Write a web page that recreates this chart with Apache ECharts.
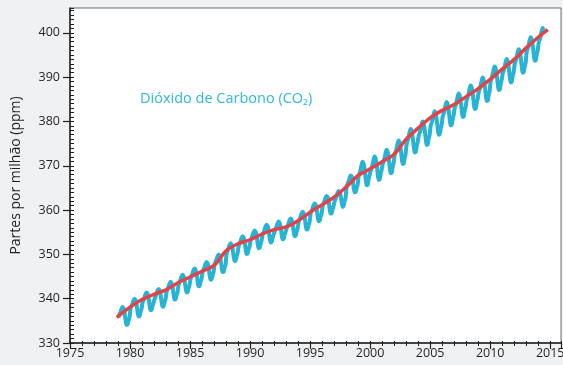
<!DOCTYPE html>
<html><head><meta charset="utf-8">
<script src="https://cdn.jsdelivr.net/npm/echarts@6/dist/echarts.min.js"></script>
<style>html,body{margin:0;padding:0;background:#f0f1f3;}#c{width:563px;height:365px;}</style>
</head><body><div id="c"></div>
<script>
// Monthly CO2 (ppm), Jan..Dec per year (read/estimated from the picture)
const years = [1979,1980,1981,1982,1983,1984,1985,1986,1987,1988,1989,1990,1991,1992,1993,1994,1995,1996,1997,1998,1999,2000,2001,2002,2003,2004,2005,2006,2007,2008,2009,2010,2011,2012,2013,2014];
const co2Monthly = [
  [335.8,336.4,337.0,337.7,338.1,337.8,336.9,335.3,334.1,334.2,335.1,335.8],
  [337.7,338.3,338.9,339.6,340.0,339.7,338.8,337.2,336.0,336.1,337.0,337.7],
  [339.1,339.7,340.3,341.0,341.4,341.1,340.2,338.6,337.4,337.5,338.4,339.1],
  [339.9,340.5,341.1,341.8,342.2,341.9,341.0,339.4,338.2,338.3,339.2,339.9],
  [341.5,342.1,342.7,343.4,343.8,343.5,342.6,341.0,339.8,339.9,340.8,341.5],
  [343.1,343.7,344.3,345.0,345.4,345.1,344.2,342.6,341.4,341.5,342.4,343.1],
  [344.5,345.1,345.7,346.4,346.8,346.5,345.6,344.0,342.8,342.9,343.8,344.5],
  [346.0,346.6,347.2,347.9,348.3,348.0,347.1,345.5,344.3,344.4,345.3,346.0],
  [347.7,348.3,348.9,349.6,350.0,349.7,348.8,347.2,346.0,346.1,347.0,347.7],
  [350.2,350.8,351.4,352.1,352.5,352.2,351.3,349.7,348.5,348.6,349.5,350.2],
  [351.8,352.4,353.0,353.7,354.1,353.8,352.9,351.3,350.1,350.2,351.1,351.8],
  [353.1,353.7,354.3,355.0,355.4,355.1,354.2,352.6,351.4,351.5,352.4,353.1],
  [354.4,355.0,355.6,356.3,356.7,356.4,355.5,353.9,352.7,352.8,353.7,354.4],
  [355.1,355.7,356.3,357.0,357.4,357.1,356.2,354.6,353.4,353.5,354.4,355.1],
  [355.8,356.4,357.0,357.7,358.1,357.8,356.9,355.3,354.1,354.2,355.1,355.8],
  [357.3,357.9,358.5,359.2,359.6,359.3,358.4,356.8,355.6,355.7,356.6,357.3],
  [359.2,359.8,360.4,361.1,361.5,361.2,360.3,358.7,357.5,357.6,358.5,359.2],
  [360.9,361.5,362.1,362.8,363.2,362.9,362.0,360.4,359.2,359.3,360.2,360.9],
  [362.0,362.6,363.2,363.9,364.3,364.0,363.3,361.8,360.7,361.0,362.0,362.8],
  [365.3,365.9,366.5,367.2,367.8,367.6,366.8,365.2,364.0,364.1,365.0,365.7],
  [367.6,368.3,369.1,370.2,370.9,370.4,369.1,367.2,365.6,365.7,367.0,367.9],
  [368.8,369.5,370.3,371.4,372.1,371.6,370.3,368.4,366.8,366.9,368.2,369.1],
  [370.3,371.0,371.8,372.9,373.6,373.1,371.8,369.9,368.3,368.4,369.7,370.6],
  [372.4,373.1,373.9,375.0,375.7,375.2,373.9,372.0,370.4,370.5,371.8,372.7],
  [375.0,375.7,376.5,377.6,378.3,377.8,376.5,374.6,373.0,373.1,374.4,375.3],
  [376.7,377.4,378.2,379.3,380.0,379.5,378.2,376.3,374.7,374.8,376.1,377.0],
  [379.0,379.7,380.5,381.6,382.3,381.8,380.5,378.6,377.0,377.1,378.4,379.3],
  [381.1,381.8,382.6,383.7,384.4,383.9,382.6,380.7,379.1,379.2,380.5,381.4],
  [383.0,383.7,384.5,385.6,386.3,385.8,384.5,382.6,381.0,381.1,382.4,383.3],
  [384.8,385.5,386.3,387.4,388.1,387.6,386.3,384.4,382.8,382.9,384.2,385.1],
  [386.6,387.3,388.1,389.2,389.9,389.4,388.1,386.2,384.6,384.7,386.0,386.9],
  [389.1,389.8,390.6,391.7,392.4,391.9,390.6,388.7,387.1,387.2,388.5,389.4],
  [390.8,391.5,392.3,393.4,394.1,393.6,392.3,390.4,388.8,388.9,390.2,391.1],
  [393.0,393.7,394.5,395.6,396.3,395.8,394.5,392.6,391.0,391.1,392.4,393.3],
  [395.7,396.4,397.2,398.3,399.0,398.5,397.2,395.3,393.7,393.8,395.1,396.0],
  [397.8,398.5,399.3,400.4,401.1,400.6]
];
// Trend line (red)
const trendYears  = [1978.9,1980,1981,1982,1983,1984,1985,1986,1987,1988,1989,1990,1991,1992,1993,1994,1995,1996,1997,1998,1999,2000,2001,2002,2003,2004,2005,2006,2007,2008,2009,2010,2011,2012,2013,2014,2014.8];
const trendValues = [335.8,338.1,339.8,341.0,342.0,343.6,344.9,346.2,347.5,350.8,352.4,353.3,354.6,355.6,356.2,357.6,359.5,361.2,362.9,365.2,367.8,369.3,370.9,372.6,376.0,378.5,380.8,382.5,383.8,385.6,387.4,389.5,391.8,394.0,396.6,399.0,400.7];
const xTicks = [1975,1980,1985,1990,1995,2000,2005,2010,2015];
const yTicks = [330,340,350,360,370,380,390,400];
const label = 'Dióxido de Carbono (CO₂)';

const co2Data = [];
years.forEach((y, i) => co2Monthly[i].forEach((v, m) => co2Data.push([y + (m + 0.5) / 12, v])));
const trendData = trendYears.map((y, i) => [y, trendValues[i]]);

const X_MAX = 2015.9, Y_MAX = 405.6;
const FONT = '"Open Sans", "DejaVu Sans", sans-serif';
const chart = echarts.init(document.getElementById('c'), null, {renderer: 'canvas'});
let gridRight = 2;
chart.setOption({
  animation: false,
  backgroundColor: '#f0f1f3',
  grid: {left: 70, right: gridRight, top: 8, bottom: 22, show: true, backgroundColor: '#ffffff',
    borderColor: '#6d6e70', borderWidth: 1, outerBoundsMode: 'none'},
  xAxis: [{
    type: 'value', min: xTicks[0], max: X_MAX, interval: 5,
    axisLine: {show: true, lineStyle: {color: '#231f20', width: 1.5}},
    axisTick: {show: true, length: 6, lineStyle: {color: '#231f20', width: 1.2}},
    minorTick: {show: true, splitNumber: 5, length: 3, lineStyle: {color: '#231f20', width: 1}},
    splitLine: {show: false},
    axisLabel: {color: '#231f20', fontSize: 12.5, fontFamily: FONT, margin: 4, showMaxLabel: false,
      formatter: v => xTicks.includes(v) ? String(v) : ''}
  }, {
    type: 'value', min: xTicks[0], max: X_MAX, interval: 1, position: 'bottom',
    axisLine: {show: false}, axisLabel: {show: false}, splitLine: {show: false},
    axisTick: {show: true, inside: true, length: 2, lineStyle: {color: '#231f20', width: 1}}
  }],
  yAxis: [{
    type: 'value', min: yTicks[0], max: Y_MAX, interval: 10,
    name: 'Partes por milhão (ppm)', nameLocation: 'middle', nameGap: 47, nameRotate: 90,
    nameTextStyle: {color: '#231f20', fontSize: 14, fontFamily: FONT},
    axisLine: {show: true, lineStyle: {color: '#231f20', width: 1.5}},
    axisTick: {show: true, length: 7, lineStyle: {color: '#231f20', width: 1.2}},
    splitLine: {show: false},
    axisLabel: {color: '#231f20', fontSize: 12.5, fontFamily: FONT, margin: 10, showMaxLabel: false,
      formatter: v => yTicks.includes(v) ? String(v) : ''}
  }, {
    type: 'value', min: yTicks[0], max: Y_MAX, interval: 1, position: 'left',
    axisLine: {show: false}, axisLabel: {show: false}, splitLine: {show: false},
    axisTick: {show: true, inside: true, length: 4, lineStyle: {color: '#231f20', width: 1}}
  }],
  graphic: [{
    type: 'text', left: 140, top: 91,
    style: {text: label, fill: '#2fb8d8', fontSize: 14.5, fontFamily: FONT}
  }],
  series: [{
    type: 'line', data: co2Data, showSymbol: false, smooth: 0.3,
    lineStyle: {color: '#27b3d4', width: 4}, z: 3
  }, {
    type: 'line', data: trendData, showSymbol: false, smooth: 0.3,
    lineStyle: {color: '#e2434b', width: 3.5}, z: 4
  }]
});
// Make sure the plot's right edge lands at x = 561 (guards against automatic label-fitting shrink)
for (let k = 0; k < 3; k++) {
  const a = chart.convertToPixel({xAxisIndex: 0}, xTicks[0]);
  const b = chart.convertToPixel({xAxisIndex: 0}, X_MAX);
  const diff = 561 - b;
  if (Math.abs(diff) < 0.3) break;
  gridRight = gridRight - diff;
  chart.setOption({grid: {right: gridRight}});
}
</script></body></html>
